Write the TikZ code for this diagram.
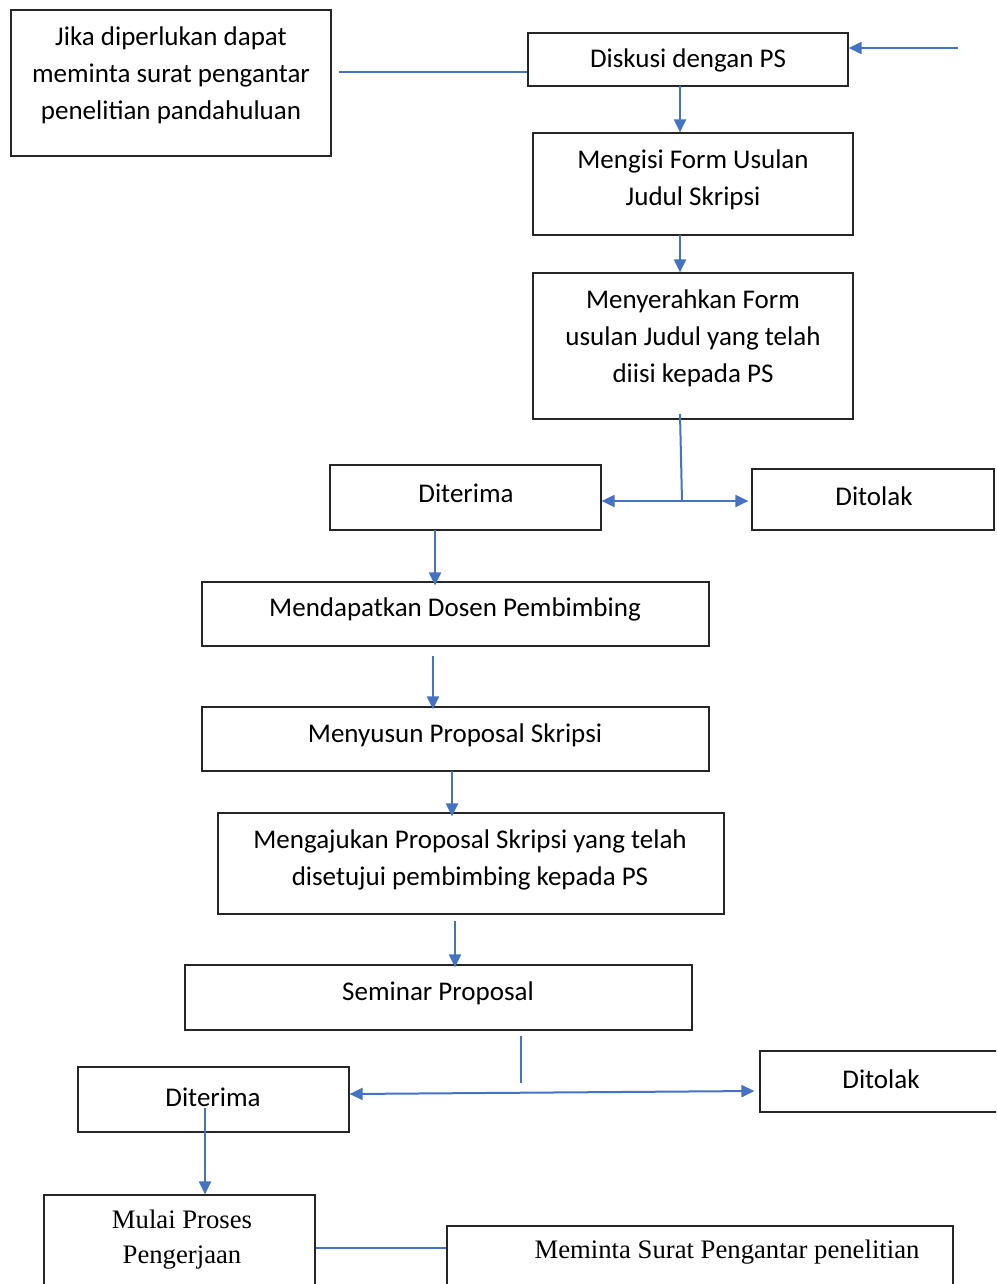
\documentclass[tikz,border=0pt]{standalone}
\usepackage{fontspec}
\setmainfont{Carlito}
\newfontfamily\timesf{Liberation Serif}
\usetikzlibrary{arrows.meta}
\definecolor{flow}{RGB}{68,114,196}
\tikzset{
  box/.style={draw=black!85, line width=1.2pt, inner sep=0pt},
  txt/.style={align=center, inner sep=0pt, font=\fontsize{27}{37}\selectfont},
  ttxt/.style={align=center, inner sep=0pt, font=\timesf\fontsize{26.7}{35}\selectfont},
  conn/.style={draw=flow, line width=2pt},
  arr/.style={conn, -{Triangle[length=13pt,width=12pt]}},
  darr/.style={conn, {Triangle[length=13pt,width=12pt]}-{Triangle[length=13pt,width=12pt]}}
}
\newcommand{\bx}[5]{\node[box, minimum width={(#4)-(#2)}, minimum height={(#5)-(#3)}] (#1) at ({((#2)+(#4))/2},{((#3)+(#5))/2}) {};}
\begin{document}
\begin{tikzpicture}[x=1pt,y=-1pt]
\useasboundingbox (0,0) rectangle (996,1284);
\begin{scope}
\clip (0,0) rectangle (996,1284);
\bx{a}{11}{10}{331}{156}
\node[txt] (ta) at (171,75) {Jika diperlukan dapat\\meminta surat pengantar\\penelitian pandahuluan};
\bx{b}{528}{33}{848}{86}
\node[txt] (tb) at (688,60) {Diskusi dengan PS};
\bx{c}{533}{133}{853}{235}
\node[txt] (tc) at (693,179.5) {Mengisi Form Usulan\\Judul Skripsi};
\bx{d}{533}{273}{853}{419}
\node[txt] (td) at (693,338) {Menyerahkan Form\\usulan Judul yang telah\\diisi kepada PS};
\bx{e}{330}{465}{601}{530}
\node[txt] (te) at (466,493) {Diterima};
\bx{f}{752}{469}{994}{530}
\node[txt] (tf) at (874,496) {Ditolak};
\bx{g}{202}{582}{709}{646}
\node[txt] (tg) at (455,609) {Mendapatkan Dosen Pembimbing};
\bx{h}{202}{707}{709}{771}
\node[txt] (th) at (455,735) {Menyusun Proposal Skripsi};
\bx{i}{218}{813}{724}{914}
\node[txt] (ti) at (470,859.5) {Mengajukan Proposal Skripsi yang telah\\disetujui pembimbing kepada PS};
\bx{j}{185}{965}{692}{1030}
\node[txt] (tj) at (438,993) {Seminar Proposal};
\bx{k}{78}{1067}{349}{1132}
\node[txt] (tk) at (213,1097) {Diterima};
\bx{l}{760}{1051}{1010}{1112}
\node[txt] (tl) at (881,1079) {Ditolak};
\bx{m}{44}{1195}{315}{1300}
\node[ttxt] (tm) at (182,1239.5) {Mulai Proses\\Pengerjaan};
\bx{n}{447}{1226}{953}{1300}
\node[ttxt] (tn) at (727,1252) {Meminta Surat Pengantar penelitian};

% connectors
\draw[conn] ([xshift=7pt]a.east |- 0,72) coordinate (a1) -- (b.west |- a1);
\coordinate (bin) at (958,48);
\draw[arr] (bin) -- (b.east |- bin);
\draw[arr] (680,86) coordinate (b1) -- (c.north -| b1);
\draw[arr] (680,235) coordinate (c1) -- (d.north -| c1);
\coordinate (d1) at (680,414);
\coordinate (d2) at (682,501);
\draw[conn] (d1) -- (d2);
\draw[darr] (e.east |- d2) -- ([xshift=-3pt]f.west |- d2);
\draw[arr] (435,530) coordinate (e1) -- ([yshift=-4pt]g.north -| e1);
\draw[arr] (433,656) coordinate (g1) -- ([yshift=-3pt]h.north -| g1);
\draw[arr] (452,771) coordinate (h1) -- ([yshift=-4pt]i.north -| h1);
\draw[arr] (455,921) coordinate (i1) -- ([yshift=-3pt]j.north -| i1);
\coordinate (j1) at (521,1036);
\coordinate (j2) at (521,1083);
\draw[conn] (j1) -- (j2);
\draw[darr] (k.east |- 0,1094) -- ([xshift=-5pt]l.west |- 0,1091);
\draw[arr] (205,1108) coordinate (k1) -- (m.north -| k1);
\draw[conn] (m.east |- 0,1248) coordinate (m1) -- (n.west |- m1);
\end{scope}
\end{tikzpicture}
\end{document}
